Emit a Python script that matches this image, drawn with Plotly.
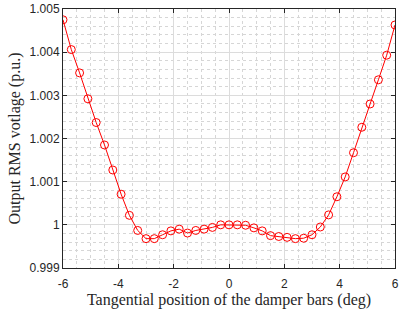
import plotly.graph_objects as go

x_deg = [-6.0, -5.7, -5.4, -5.1, -4.8, -4.5, -4.2, -3.9, -3.6, -3.3, -3.0, -2.7, -2.4, -2.1,
         -1.8, -1.5, -1.2, -0.9, -0.6, -0.3, 0.0, 0.3, 0.6, 0.9, 1.2, 1.5, 1.8, 2.1, 2.4,
         2.7, 3.0, 3.3, 3.6, 3.9, 4.2, 4.5, 4.8, 5.1, 5.4, 5.7, 6.0]
v_rms = [1.00475, 1.00406, 1.00352, 1.00292, 1.00237, 1.00185, 1.00127, 1.00071, 1.00022,
         0.99987, 0.99968, 0.99968, 0.99977, 0.99986, 0.99990, 0.99981, 0.99987, 0.99990,
         0.99994, 1.00000, 1.00000, 1.00000, 0.99999, 0.99993, 0.99986, 0.99975, 0.99973,
         0.99971, 0.99968, 0.99969, 0.99977, 0.99995, 1.00023, 1.00065, 1.00111, 1.00167,
         1.00226, 1.00280, 1.00336, 1.00393, 1.00463]

x_ticks = [-6, -4, -2, 0, 2, 4, 6]
x_ticktext = ["-6", "-4", "-2", "0", "2", "4", "6"]
y_ticks = [0.999, 1.0, 1.001, 1.002, 1.003, 1.004, 1.005]
y_ticktext = ["0.999", "1", "1.001", "1.002", "1.003", "1.004", "1.005"]

fig = go.Figure()
fig.add_trace(go.Scatter(
    x=x_deg, y=v_rms, mode="lines+markers",
    line=dict(color="#ff0000", width=1),
    marker=dict(symbol="circle-open", size=8, color="#ff0000", line=dict(width=1, color="#ff0000")),
    showlegend=False,
))

axis_common = dict(
    showline=True, linecolor="#262626", linewidth=1, mirror="ticks",
    ticks="inside", ticklen=4, tickcolor="#262626",
    showgrid=True, gridcolor="#dcdcdc", gridwidth=1,
    zeroline=False, ticklabeloverflow="allow",
    tickfont=dict(family="Liberation Sans, Arial", size=12, color="#262626"),
)

fig.update_layout(
    width=401, height=313,
    margin=dict(l=63, r=2, t=6, b=45),
    plot_bgcolor="white", paper_bgcolor="white",
    xaxis=dict(
        range=[-6, 6], tickvals=x_ticks, ticktext=x_ticktext,
        ticklabelstandoff=5,
        title=dict(text="Tangential position of the damper bars (deg)",
                   font=dict(family="Liberation Serif, Times New Roman", size=16, color="#262626"),
                   standoff=3),
        minor=dict(dtick=0.5, showgrid=True, gridcolor="#d6d6d6", griddash="dot", ticks=""),
        **axis_common,
    ),
    yaxis=dict(
        range=[0.999, 1.005], tickvals=y_ticks, ticktext=y_ticktext,
        title=dict(text="Output RMS votlage (p.u.)",
                   font=dict(family="Liberation Serif, Times New Roman", size=16, color="#262626"),
                   standoff=4),
        minor=dict(dtick=0.0002, tick0=0.999, showgrid=True, gridcolor="#d6d6d6", griddash="dot", ticks=""),
        **axis_common,
    ),
)

fig.write_html("out.html", config={"displayModeBar": False},
               post_script="document.body.style.margin='0';document.body.style.overflow='hidden';")
